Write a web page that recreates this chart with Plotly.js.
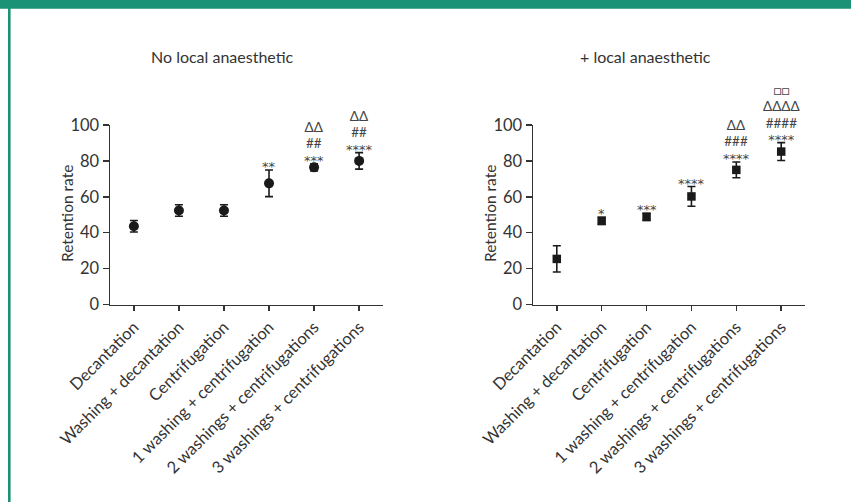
<!DOCTYPE html>
<html>
<head>
<meta charset="utf-8">
<script src="https://cdn.plot.ly/plotly-3.0.1.min.js"></script>
<style>html,body{margin:0;padding:0;background:#fff;}#chart{width:851px;height:502px;}</style>
</head>
<body>
<div id="chart"></div>
<script>
// ---- data ----
var categories = ["Decantation", "Washing + decantation", "Centrifugation",
  "1 washing + centrifugation", "2 washings + centrifugations", "3 washings + centrifugations"];
var noAnaMean = [43.6, 52.4, 52.4, 67.5, 76.4, 80.0];
var noAnaErr  = [3.2, 3.2, 3.2, 7.4, 2.0, 4.6];
var withAnaMean = [25.4, 46.6, 48.8, 60.2, 75.0, 85.2];
var withAnaErr  = [7.3, 2.0, 2.0, 5.5, 4.4, 5.0];
// significance labels, listed from bottom line to top line
var noAnaSig = [[], [], [], ["**"], ["***", "##", "ΔΔ"], ["****", "##", "ΔΔ"]];
var withAnaSig = [[], ["*"], ["***"], ["****"], ["****", "###", "ΔΔ"], ["****", "####", "ΔΔΔΔ", "□□"]];
var yTicks = [0, 20, 40, 60, 80, 100];
var panelTitles = ["No local anaesthetic", "+ local anaesthetic"];
var yTitle = "Retention rate";

var FONT = "Lato, 'Open Sans', sans-serif";
var TXT = "#333333";
var idx = categories.map(function(_, i){ return i; });

function trace(mean, err, sym, size, xa, ya) {
  return {
    type: "scatter", mode: "markers", x: idx, y: mean, xaxis: xa, yaxis: ya,
    marker: {symbol: sym, size: size, color: "#1a1a1a"},
    error_y: {type: "data", array: err, visible: true, color: "#1a1a1a", thickness: 1.6, width: 4},
    cliponaxis: false, showlegend: false, hoverinfo: "skip"
  };
}

var data = [
  trace(noAnaMean, noAnaErr, "circle", 10, "x", "y"),
  trace(withAnaMean, withAnaErr, "square", 8.5, "x2", "y2")
];

function axisX(domain, anchor) {
  return {
    domain: domain, anchor: anchor, range: [-0.53, 5.53],
    tickmode: "array", tickvals: idx, ticktext: categories, tickangle: -45,
    ticks: "outside", ticklen: 5, tickwidth: 1.5, tickcolor: "#333",
    showline: true, linecolor: "#333", linewidth: 1.5,
    showgrid: false, zeroline: false, fixedrange: true,
    tickfont: {family: FONT, size: 16.5, color: TXT}
  };
}
function axisY(domain, anchor) {
  return {
    domain: domain, anchor: anchor, range: [0, 100],
    tickmode: "array", tickvals: yTicks,
    ticks: "outside", ticklen: 6, tickwidth: 1.5, tickcolor: "#333",
    showline: true, linecolor: "#333", linewidth: 1.5,
    showgrid: false, zeroline: false, fixedrange: true,
    tickfont: {family: FONT, size: 16.5, color: TXT}
  };
}

var annotations = [];
function addSig(sig, mean, err, xa, ya) {
  sig.forEach(function(lines, i) {
    if (!lines.length) return;
    var parts = lines.map(function(txt) {
      if (txt.charAt(0) === "*") {
        return '<span style="font-family:\'DejaVu Sans\';font-size:13px">' + txt + '</span>';
      }
      return '<span style="font-size:13.5px">' + txt + '</span>';
    }).reverse();
    annotations.push({
      xref: xa, yref: ya, x: i, y: mean[i] + err[i],
      text: parts.join("<br>"), showarrow: false, xanchor: "center", yanchor: "bottom",
      yshift: -6,
      font: {family: FONT, size: 12.6, color: "#444"}
    });
  });
}
addSig(noAnaSig, noAnaMean, noAnaErr, "x", "y");
addSig(withAnaSig, withAnaMean, withAnaErr, "x2", "y2");

annotations.push({xref: "paper", yref: "paper", x: 222.5/851, y: 1 - 56/502, text: panelTitles[0],
  showarrow: false, xanchor: "center", yanchor: "middle", font: {family: FONT, size: 16, color: TXT}});
annotations.push({xref: "paper", yref: "paper", x: 645/851, y: 1 - 56/502, text: panelTitles[1],
  showarrow: false, xanchor: "center", yanchor: "middle", font: {family: FONT, size: 16, color: TXT}});
[67, 490].forEach(function(px) {
  annotations.push({xref: "paper", yref: "paper", x: px/851, y: 1 - 214/502, text: yTitle, textangle: -90,
    showarrow: false, xanchor: "center", yanchor: "middle", font: {family: FONT, size: 15.5, color: TXT}});
});

var yDom = [(502 - 304.5)/502, (502 - 125)/502];
var layout = {
  width: 851, height: 502,
  margin: {l: 0, r: 0, t: 0, b: 0},
  paper_bgcolor: "#ffffff", plot_bgcolor: "#ffffff",
  xaxis: axisX([110/851, 383/851], "y"),
  yaxis: axisY(yDom, "x"),
  xaxis2: axisX([533/851, 805/851], "y2"),
  yaxis2: axisY(yDom, "x2"),
  annotations: annotations,
  shapes: [
    {type: "rect", xref: "paper", yref: "paper", x0: 0, x1: 1, y0: 1 - 8.7/502, y1: 1,
     fillcolor: "#1b9275", line: {width: 0}, layer: "above"},
    {type: "rect", xref: "paper", yref: "paper", x0: 8/851, x1: 10.6/851, y0: 0, y1: 1,
     fillcolor: "#1b9275", line: {width: 0}, layer: "above"}
  ]
};

Plotly.newPlot("chart", data, layout, {displayModeBar: false, staticPlot: true});
</script>
</body>
</html>
